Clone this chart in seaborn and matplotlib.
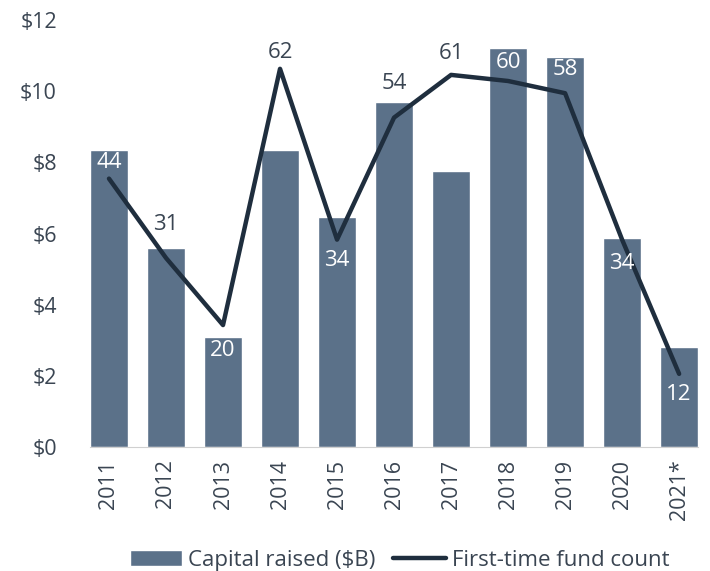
import numpy as np
import matplotlib
matplotlib.use("Agg")
import matplotlib.pyplot as plt
import seaborn as sns

# --- Data ---
years = ["2011", "2012", "2013", "2014", "2015", "2016", "2017", "2018", "2019", "2020", "2021*"]
capital_raised = [8.35, 5.6, 3.1, 8.35, 6.47, 9.7, 7.75, 11.2, 10.97, 5.88, 2.82]
fund_count = [44, 31, 20, 62, 34, 54, 61, 60, 58, 34, 12]

# label offset from the line point, in pixels (positive = above)
label_offset_px = [16, 33, -25, 16, -21, 34, 21, 19, 24, -24, -21]

bar_color = "#5b7189"
line_color = "#1f2e3e"
text_color = "#3a4552"

sns.set_style("white")
plt.rcParams["font.family"] = ["Open Sans", "DejaVu Sans"]

fig = plt.figure(figsize=(7.1, 5.71), dpi=100)
ax = fig.add_axes([0.127, 0.217, 0.856, 0.748])

sns.barplot(x=years, y=capital_raised, color=bar_color, width=0.66,
            saturation=1, ax=ax, label="Capital raised ($B)")
if ax.get_legend() is not None:
    ax.get_legend().remove()
ax.set_ylim(0, 12)
ax.set_xlim(-0.33, len(years) - 0.67)
ax.set_yticks(range(0, 13, 2))
ax.set_yticklabels([f"${v}" for v in range(0, 13, 2)], fontsize=15.5, color=text_color)
ax.tick_params(axis="x", labelrotation=90, labelsize=15.5, labelcolor=text_color, length=0, pad=9)
ax.tick_params(axis="y", length=0, pad=24)
ax.set_xlabel("")
ax.set_ylabel("")
for s in ["top", "right", "left"]:
    ax.spines[s].set_visible(False)
ax.spines["bottom"].set_color("#d0d0d0")

# --- Fund count line on hidden secondary axis ---
ax2 = ax.twinx()
x_pos = np.arange(len(years))
sns.lineplot(x=x_pos, y=fund_count, color=line_color, linewidth=3.2, ax=ax2,
             label="First-time fund count", legend=False)
ax2.set_ylim(0, 70)
ax2.set_yticks([])
ax2.set_ylabel("")
for s in ax2.spines.values():
    s.set_visible(False)

px_per_unit = ax.get_position().height * fig.get_figheight() * fig.dpi / 12
for i, (v, off) in enumerate(zip(fund_count, label_offset_px)):
    label_y = v * 12 / 70 + off / px_per_unit
    inside = label_y < capital_raised[i]
    ax2.annotate(str(v), (i, v), xytext=(0, off * 72 / fig.dpi), textcoords="offset points",
                 ha="center", va="center", fontsize=16,
                 color="white" if inside else text_color)

# --- Legend ---
h1, l1 = ax.get_legend_handles_labels()
h2, l2 = ax2.get_legend_handles_labels()
fig.legend(h1 + h2, l1 + l2, loc="lower center", bbox_to_anchor=(0.563, -0.035),
           ncol=2, frameon=False, fontsize=16, handlelength=2.35,
           columnspacing=0.8, handletextpad=0.28, labelcolor=text_color)

plt.savefig("out.png", dpi=100)
